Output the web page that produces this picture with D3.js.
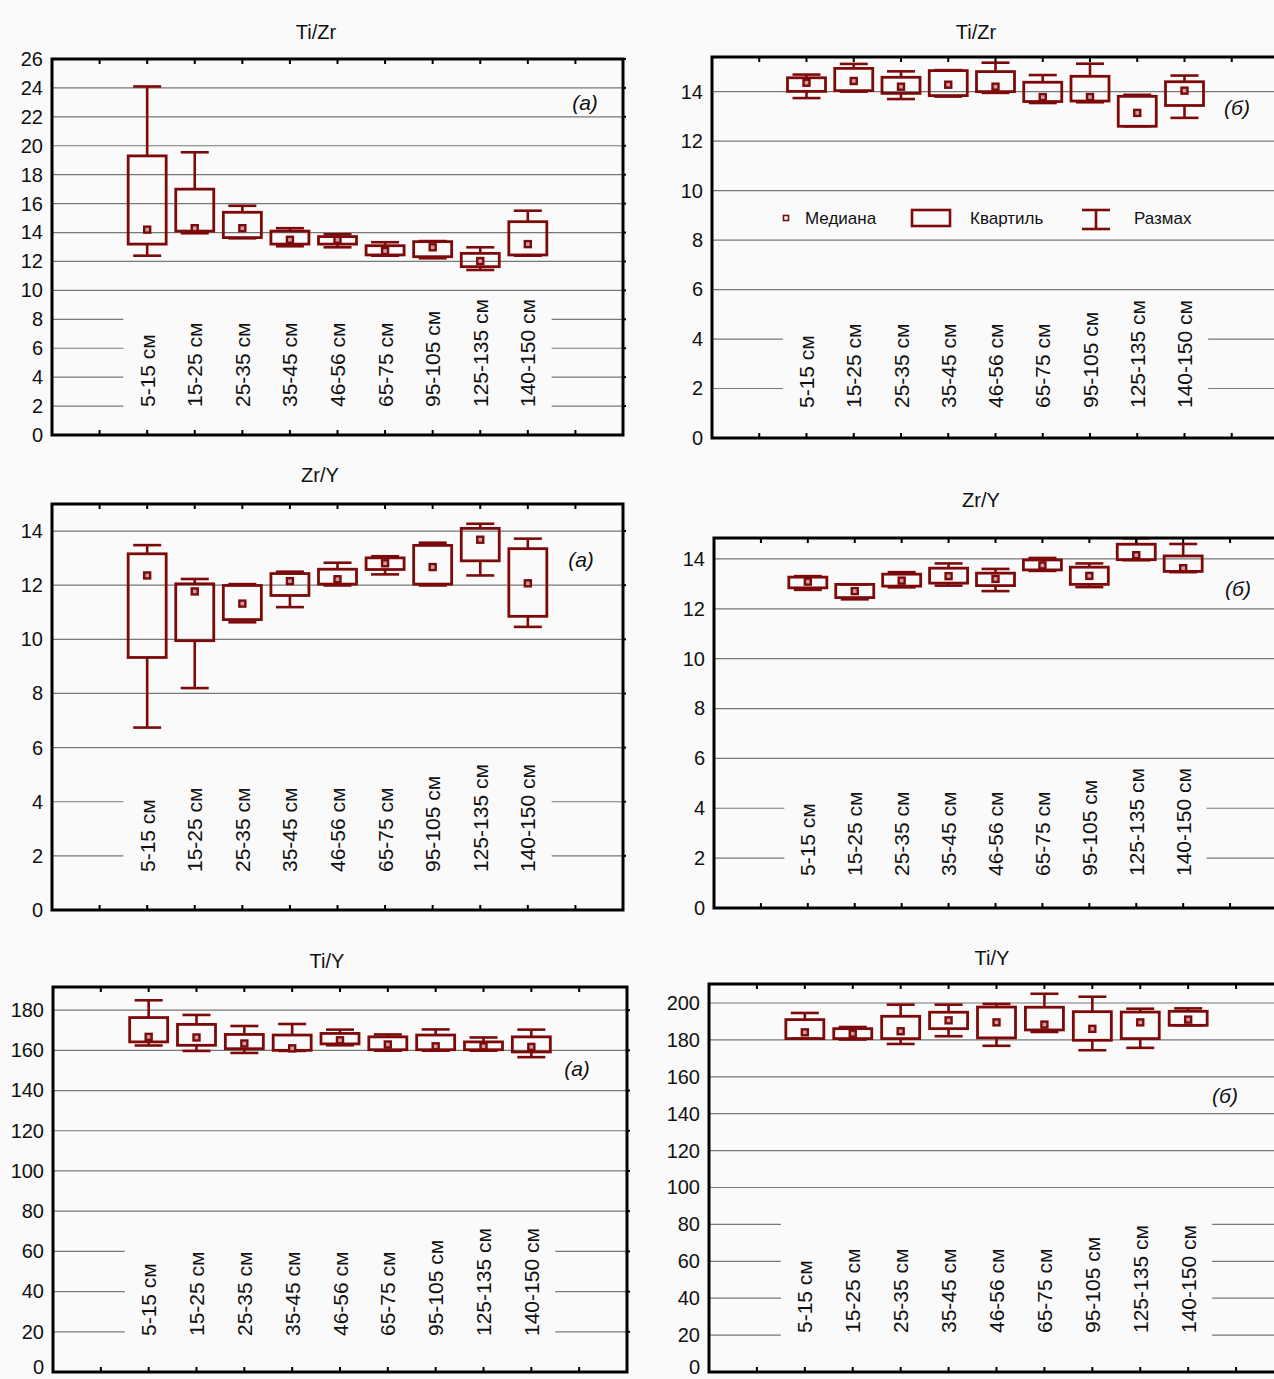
<!DOCTYPE html>
<html>
<head>
<meta charset="utf-8">
<script src="https://cdn.jsdelivr.net/npm/d3@7"></script>
<style>
  html, body { margin: 0; padding: 0; background: #fafafa; }
  svg { display: block; font-family: "Liberation Sans", Arial, sans-serif; }
</style>
</head>
<body>
<svg id="chart" width="1274" height="1379"></svg>
<script>
// Sampling depths (x categories)
const depths = ["5-15 см", "15-25 см", "25-35 см", "35-45 см", "46-56 см",
                "65-75 см", "95-105 см", "125-135 см", "140-150 см"];

// Each row: [min, lower quartile, median, upper quartile, max]
const tiZrA = [
  [12.4, 13.2, 14.2, 19.3, 24.1],
  [13.95, 14.1, 14.3, 17.0, 19.55],
  [13.6, 13.65, 14.3, 15.4, 15.85],
  [13.05, 13.2, 13.5, 14.1, 14.3],
  [12.98, 13.2, 13.5, 13.72, 13.88],
  [12.4, 12.45, 12.72, 13.09, 13.33],
  [12.22, 12.33, 12.98, 13.37, 13.41],
  [11.41, 11.64, 12.03, 12.56, 12.98],
  [12.4, 12.45, 13.2, 14.75, 15.51]
];
const tiZrB = [
  [13.74, 14.01, 14.36, 14.56, 14.69],
  [14.0, 14.04, 14.43, 14.94, 15.12],
  [13.7, 13.93, 14.2, 14.58, 14.82],
  [13.8, 13.84, 14.28, 14.85, 14.87],
  [13.95, 14.0, 14.2, 14.81, 15.17],
  [13.54, 13.6, 13.78, 14.38, 14.67],
  [13.57, 13.62, 13.78, 14.62, 15.13],
  [12.6, 12.6, 13.14, 13.81, 13.87],
  [12.94, 13.44, 14.04, 14.4, 14.65]
];
const zrYA = [
  [6.74, 9.33, 12.36, 13.16, 13.48],
  [8.2, 9.95, 11.77, 12.05, 12.23],
  [10.63, 10.73, 11.32, 11.99, 12.04],
  [11.19, 11.62, 12.15, 12.43, 12.5],
  [11.99, 12.04, 12.22, 12.59, 12.83],
  [12.4, 12.58, 12.81, 13.01, 13.07],
  [11.99, 12.04, 12.67, 13.47, 13.57],
  [12.36, 12.9, 13.68, 14.1, 14.27],
  [10.46, 10.85, 12.07, 13.35, 13.72]
];
const zrYB = [
  [12.76, 12.84, 13.09, 13.27, 13.31],
  [12.38, 12.45, 12.71, 12.98, 12.98],
  [12.86, 12.91, 13.13, 13.39, 13.47],
  [12.93, 13.03, 13.31, 13.63, 13.82],
  [12.71, 12.93, 13.2, 13.43, 13.6],
  [13.52, 13.56, 13.74, 13.96, 14.04],
  [12.87, 12.98, 13.32, 13.67, 13.82],
  [13.95, 13.97, 14.15, 14.59, 14.83],
  [13.47, 13.5, 13.63, 14.12, 14.6]
];
const tiYA = [
  [162.4, 164.2, 166.7, 176.3, 184.9],
  [159.7, 162.5, 166.4, 172.9, 177.6],
  [158.7, 160.8, 163.4, 167.9, 172.1],
  [159.7, 160.0, 161.0, 167.6, 173.1],
  [162.5, 163.2, 165.0, 168.4, 170.3],
  [159.8, 160.3, 162.9, 166.7, 167.9],
  [159.8, 160.3, 162.0, 167.6, 170.4],
  [159.8, 160.3, 162.0, 164.2, 166.4],
  [156.6, 159.2, 161.7, 166.7, 170.3]
];
const tiYB = [
  [180.7, 180.7, 184.1, 191.0, 194.6],
  [180.2, 180.7, 183.4, 186.1, 187.0],
  [177.8, 180.7, 184.7, 192.8, 199.1],
  [182.0, 186.1, 190.6, 195.0, 199.1],
  [176.8, 181.1, 189.5, 197.8, 199.5],
  [184.3, 185.4, 188.3, 197.7, 205.0],
  [174.4, 179.8, 186.0, 195.3, 203.4],
  [175.7, 180.7, 189.5, 195.1, 196.9],
  [187.9, 187.9, 191.0, 195.5, 197.1]
];

// Y tick values
const ticksTiZrA = d3.range(0, 27, 2);
const ticksSmall = d3.range(0, 15, 2);
const ticksTiYA = d3.range(0, 181, 20);
const ticksTiYB = d3.range(0, 201, 20);

// Legend entries
const legendLabels = ["Медиана", "Квартиль", "Размах"];

// Panel layout
const panels = [
  { data: tiZrA, title: "Ti/Zr", tag: "(а)", ticks: ticksTiZrA, yMax: 26,
    left: 52, right: 623, top: 59, bottom: 435, titleX: 316, titleY: 32,
    tagX: 585, tagY: 103, labelGap: 28 },
  { data: tiZrB, title: "Ti/Zr", tag: "(б)", ticks: ticksSmall, yMax: 15.4,
    left: 712, right: 1279, top: 57, bottom: 438, titleX: 976, titleY: 32,
    tagX: 1237, tagY: 108, labelGap: 30, legend: true },
  { data: zrYA, title: "Zr/Y", tag: "(а)", ticks: ticksSmall, yMax: 15,
    left: 52, right: 623, top: 504, bottom: 910, titleX: 320, titleY: 475,
    tagX: 581, tagY: 560, labelGap: 38 },
  { data: zrYB, title: "Zr/Y", tag: "(б)", ticks: ticksSmall, yMax: 14.84,
    left: 714, right: 1277, top: 538, bottom: 908, titleX: 981, titleY: 500,
    tagX: 1238, tagY: 589, labelGap: 32 },
  { data: tiYA, title: "Ti/Y", tag: "(а)", ticks: ticksTiYA, yMax: 191.5,
    left: 53, right: 627, top: 987, bottom: 1372, titleX: 327, titleY: 961,
    tagX: 577, tagY: 1069, labelGap: 36 },
  { data: tiYB, title: "Ti/Y", tag: "(б)", ticks: ticksTiYB, yMax: 210.3,
    left: 709, right: 1284, top: 984, bottom: 1372, titleX: 992, titleY: 958,
    tagX: 1225, tagY: 1096, labelGap: 39 }
];

const W = 1274, H = 1379;
const BG = "#fafafa";
const RED = "#7d0a0a";
const GRID = "#777777";
const boxW = 38, capW = 28;

const svg = d3.select("#chart");
svg.append("rect").attr("width", W).attr("height", H).attr("fill", BG);

panels.forEach(p => {
  const g = svg.append("g");
  const x = d3.scaleLinear().domain([0, 12]).range([p.left, p.right]);
  const y = d3.scaleLinear().domain([0, p.yMax]).range([p.bottom, p.top]);

  // title
  g.append("text").attr("x", p.titleX).attr("y", p.titleY).attr("dy", "0.35em")
    .attr("text-anchor", "middle").attr("font-size", 20).attr("fill", "#111")
    .text(p.title);

  // horizontal grid lines
  g.selectAll("line.grid").data(p.ticks.filter(t => t > 0)).join("line")
    .attr("class", "grid")
    .attr("x1", p.left).attr("x2", p.right)
    .attr("y1", d => y(d)).attr("y2", d => y(d))
    .attr("stroke", GRID).attr("stroke-width", 1.2);

  // y-axis tick labels through a d3 axis (line parts hidden)
  const yAxis = g.append("g").attr("transform", `translate(${p.left},0)`)
    .call(d3.axisLeft(y).tickValues(p.ticks).tickSize(0).tickPadding(9));
  yAxis.select(".domain").remove();
  yAxis.selectAll("text").attr("font-size", 20).attr("fill", "#111")
    .attr("font-family", "'Liberation Sans', Arial, sans-serif");
  // keep labels that sit on the page edge fully visible
  yAxis.selectAll(".tick").each(function () {
    const t = d3.select(this).select("text");
    const bb = this.getBBox();
    const ty = +d3.select(this).attr("transform").match(/,\s*([-\d.]+)\)/)[1];
    const over = ty + bb.y + bb.height - (H - 1);
    if (over > 0) t.attr("y", -over);
  });

  // category labels (rotated), with a background block behind them
  const base = p.bottom - p.labelGap;
  const maskG = g.append("g");
  const labels = g.append("g").selectAll("text").data(depths).join("text")
    .attr("transform", (d, i) => `translate(${x(i + 2)},${base}) rotate(-90)`)
    .attr("dy", "0.36em").attr("text-anchor", "start")
    .attr("font-size", 21).attr("fill", "#111").text(d => d);
  let maxLen = 0;
  labels.each(function () { maxLen = Math.max(maxLen, this.getComputedTextLength()); });
  maskG.append("rect")
    .attr("x", x(1.5)).attr("width", x(10.5) - x(1.5))
    .attr("y", base - maxLen - 7).attr("height", p.bottom - (base - maxLen - 7))
    .attr("fill", BG);

  // box plots
  const boxes = g.append("g").selectAll("g").data(p.data).join("g")
    .attr("transform", (d, i) => `translate(${x(i + 2)},0)`);
  boxes.append("line").attr("x1", 0).attr("x2", 0)
    .attr("y1", d => y(d[3])).attr("y2", d => y(d[4]))
    .attr("stroke", RED).attr("stroke-width", 2.6);
  boxes.append("line").attr("x1", 0).attr("x2", 0)
    .attr("y1", d => y(d[1])).attr("y2", d => y(d[0]))
    .attr("stroke", RED).attr("stroke-width", 2.6);
  boxes.append("line").attr("x1", -capW / 2).attr("x2", capW / 2)
    .attr("y1", d => y(d[4])).attr("y2", d => y(d[4]))
    .attr("stroke", RED).attr("stroke-width", 2.6);
  boxes.append("line").attr("x1", -capW / 2).attr("x2", capW / 2)
    .attr("y1", d => y(d[0])).attr("y2", d => y(d[0]))
    .attr("stroke", RED).attr("stroke-width", 2.6);
  boxes.append("rect").attr("x", -boxW / 2).attr("width", boxW)
    .attr("y", d => y(d[3])).attr("height", d => Math.max(0.5, y(d[1]) - y(d[3])))
    .attr("fill", "none").attr("stroke", RED).attr("stroke-width", 2.8);
  boxes.append("rect").attr("x", -3).attr("width", 6)
    .attr("y", d => y(d[2]) - 3).attr("height", 6)
    .attr("fill", "#caa0a0").attr("stroke", RED).attr("stroke-width", 2.4);

  // frame and tick marks
  g.append("rect").attr("x", p.left).attr("y", p.top)
    .attr("width", p.right - p.left).attr("height", p.bottom - p.top)
    .attr("fill", "none").attr("stroke", "#000").attr("stroke-width", 3);
  const tk = d3.range(1, 12);
  g.selectAll("line.tt").data(tk).join("line").attr("class", "tt")
    .attr("x1", d => x(d)).attr("x2", d => x(d))
    .attr("y1", p.top).attr("y2", p.top + 5)
    .attr("stroke", "#000").attr("stroke-width", 2);
  g.selectAll("line.tb").data(tk).join("line").attr("class", "tb")
    .attr("x1", d => x(d)).attr("x2", d => x(d))
    .attr("y1", p.bottom).attr("y2", p.bottom - 5)
    .attr("stroke", "#000").attr("stroke-width", 2);
  g.selectAll("line.tr").data(p.ticks.filter(t => t > 0)).join("line").attr("class", "tr")
    .attr("x1", p.right).attr("x2", p.right + 3)
    .attr("y1", d => y(d)).attr("y2", d => y(d))
    .attr("stroke", "#000").attr("stroke-width", 2);

  // panel tag
  g.append("text").attr("x", p.tagX).attr("y", p.tagY).attr("dy", "0.35em")
    .attr("text-anchor", "middle").attr("font-size", 21).attr("font-style", "italic")
    .attr("fill", "#111").text(p.tag);

  // legend
  if (p.legend) {
    const lg = g.append("g");
    const ly = 218;
    lg.append("rect").attr("x", 783.5).attr("y", ly - 2.5).attr("width", 5).attr("height", 5)
      .attr("fill", "#fff").attr("stroke", RED).attr("stroke-width", 1.6);
    lg.append("rect").attr("x", 912).attr("y", ly - 8).attr("width", 38).attr("height", 16)
      .attr("fill", "none").attr("stroke", RED).attr("stroke-width", 2.6);
    lg.append("line").attr("x1", 1096).attr("x2", 1096).attr("y1", ly - 8).attr("y2", ly + 11)
      .attr("stroke", RED).attr("stroke-width", 2.6);
    lg.append("line").attr("x1", 1082).attr("x2", 1110).attr("y1", ly - 8).attr("y2", ly - 8)
      .attr("stroke", RED).attr("stroke-width", 2.6);
    lg.append("line").attr("x1", 1082).attr("x2", 1110).attr("y1", ly + 11).attr("y2", ly + 11)
      .attr("stroke", RED).attr("stroke-width", 2.6);
    lg.selectAll("text").data(legendLabels).join("text")
      .attr("x", (d, i) => [805, 970, 1134][i]).attr("y", ly).attr("dy", "0.35em")
      .attr("font-size", 17).attr("fill", "#111").text(d => d);
  }
});
</script>
</body>
</html>
